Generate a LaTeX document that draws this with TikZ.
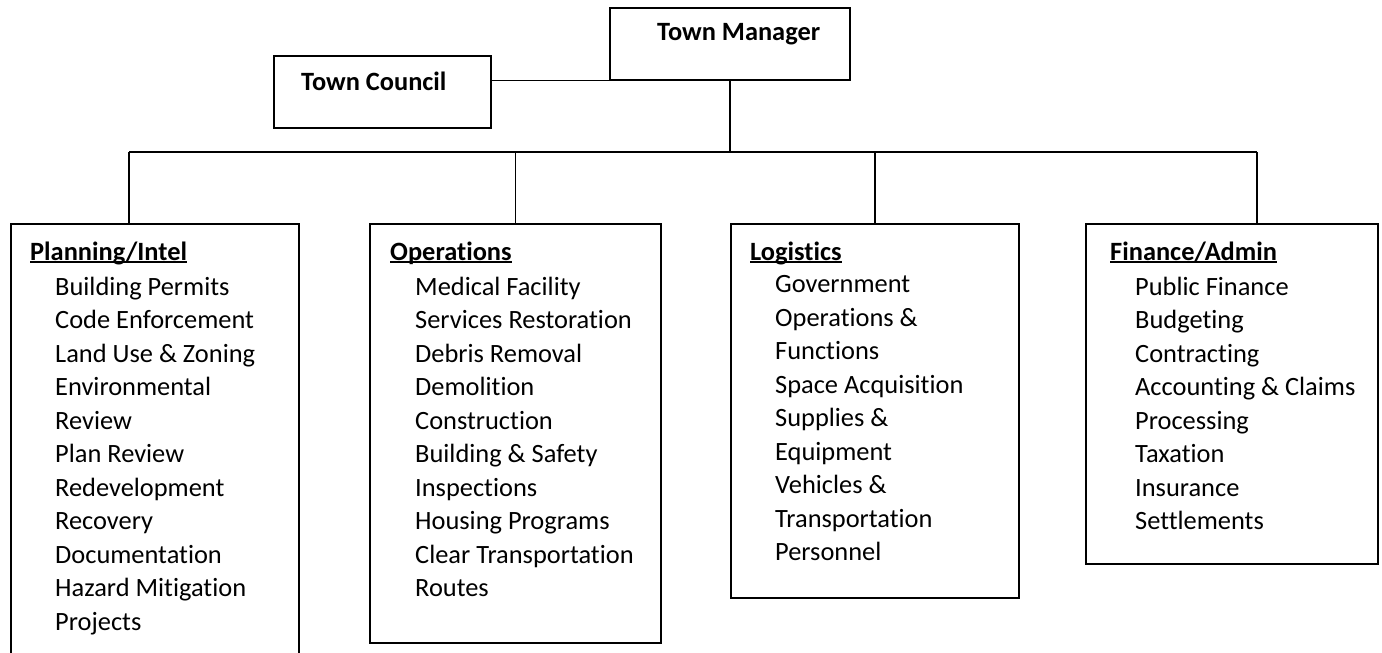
\documentclass[tikz,border=0pt]{standalone}
\usepackage{fontspec}
\setmainfont{Carlito}[Ligatures=NoCommon]
\usetikzlibrary{positioning}
\newcommand{\headul}[1]{\leavevmode\setbox0\hbox{\bfseries #1}\rlap{\rule[-3pt]{\wd0}{1.6pt}}\box0}
\newcommand{\nextentry}{\\\hspace*{25pt}}
\tikzset{
orgbox/.style=
    {draw,
    line width=1.5pt,
    rectangle,
    anchor=north west,
    inner sep=0pt
    },
boxtext/.style=
    {anchor=base west,
    inner sep=0pt,
    font=\fontsize{26.4}{33.5}\selectfont
    },
orgline/.style=
    {draw,
    line width=1.5pt
    }}

\begin{document}
\begin{tikzpicture}[x=1pt,y=-1pt]
\clip (0,0) rectangle (1382,653);

% top boxes
\node[orgbox,minimum width=240pt,minimum height=72pt] (manager) at (609,7) {};
\node[orgbox,minimum width=217pt,minimum height=72pt] (council) at (273,55) {};
\node[boxtext,font=\fontsize{26.4}{33.5}\selectfont\bfseries] (managertext) at (657,40) {Town Manager};
\node[boxtext,font=\fontsize{26.4}{33.5}\selectfont\bfseries] (counciltext) at (301,90) {Town Council};

% section boxes
\node[orgbox,minimum width=288pt,minimum height=480pt] (planning) at (10,223) {};
\node[orgbox,minimum width=291pt,minimum height=419pt] (operations) at (369,223) {};
\node[orgbox,minimum width=288pt,minimum height=374pt] (logistics) at (730,223) {};
\node[orgbox,minimum width=292pt,minimum height=340pt] (finance) at (1085,223) {};

\node[boxtext] (planningtext) at (30,260) {\parbox[t]{265pt}{\raggedright
\headul{Planning/Intel}\\[1.5pt]
\hspace*{25pt}Building Permits\nextentry Code Enforcement\nextentry Land Use \& Zoning
\nextentry Environmental\nextentry Review\nextentry Plan Review\nextentry Redevelopment
\nextentry Recovery\nextentry Documentation\nextentry Hazard Mitigation\nextentry Projects}};

\node[boxtext] (operationstext) at (390,260) {\parbox[t]{265pt}{\raggedright
\headul{Operations}\\[1.5pt]
\hspace*{25pt}Medical Facility\nextentry Services Restoration\nextentry Debris Removal
\nextentry Demolition\nextentry Construction\nextentry Building \& Safety\nextentry Inspections
\nextentry Housing Programs\nextentry Clear Transportation\nextentry Routes}};

\node[boxtext] (logisticstext) at (750,260) {\parbox[t]{265pt}{\raggedright
\headul{Logistics}\\[-1pt]
\hspace*{25pt}Government\nextentry Operations \&\nextentry Functions
\nextentry Space Acquisition\nextentry Supplies \&\nextentry Equipment\nextentry Vehicles \&
\nextentry Transportation\nextentry Personnel}};

\node[boxtext] (financetext) at (1110,260) {\parbox[t]{265pt}{\raggedright
\headul{Finance/Admin}\\[1.5pt]
\hspace*{25pt}Public Finance\nextentry Budgeting\nextentry Contracting
\nextentry Accounting \& Claims\nextentry Processing\nextentry Taxation\nextentry Insurance
\nextentry Settlements}};

% connectors
\coordinate (busleft) at (129,152);
\coordinate (busright) at (1257,152);
\draw[orgline] (council.east |- manager.south) -- (manager.south west);
\draw[orgline] (manager.south) -- (manager.south |- busleft);
\draw[orgline] (busleft) -- (busright);
\draw[orgline] (busleft) -- (busleft |- planning.north);
\draw[orgline] (operations.north |- busleft) -- (operations.north);
\draw[orgline] (logistics.north |- busleft) -- (logistics.north);
\draw[orgline] (busright) -- (busright |- finance.north);
\end{tikzpicture}
\end{document}
